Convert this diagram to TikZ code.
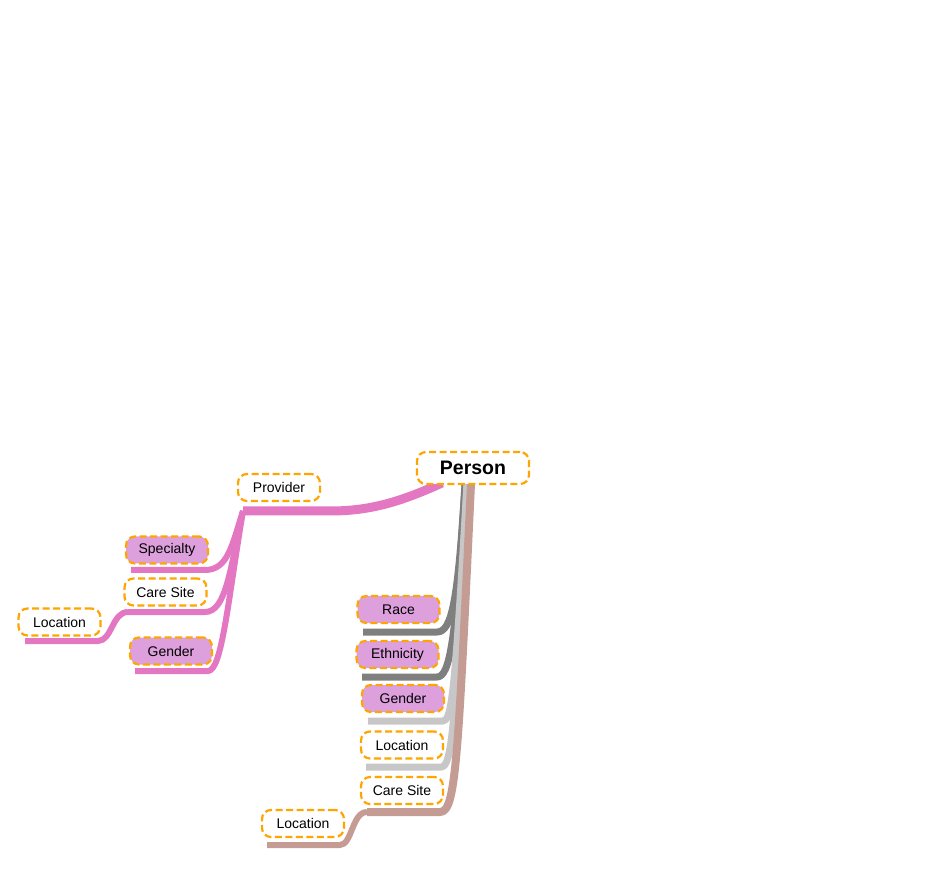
\documentclass[tikz,border=0pt]{standalone}
\usepackage{fontspec}
\setmainfont{Liberation Sans}
\usepackage{tikz}
\definecolor{boxorange}{HTML}{FFA500}
\definecolor{plumfill}{HTML}{DDA0DD}
\definecolor{pinkline}{HTML}{E377C2}
\definecolor{darkline}{HTML}{7F7F7F}
\definecolor{lightline}{HTML}{C7C7C7}
\definecolor{brownline}{HTML}{C49C94}
\pgfdeclarelayer{background}
\pgfsetlayers{background,main}

\begin{document}
\begin{tikzpicture}[x=1pt,y=-1pt]
\useasboundingbox (0,0) rectangle (946,874);
\tikzstyle{topic}=[draw=boxorange,line width=2.2pt,dash pattern=on 7pt off 3.5pt,rounded corners=9pt,fill=white,minimum width=82pt,minimum height=27pt,inner sep=0pt,font=\fontsize{14}{16}\selectfont];
\tikzstyle{attr}=[topic,fill=plumfill];
\tikzstyle{branch}=[line join=round];
\node[topic,minimum width=112pt,minimum height=32pt,font=\bfseries\fontsize{19.5}{22}\selectfont] (P)at(473,468) {Person};
\node[topic] (Pv)at(279,487.5) {Provider};
\node[attr] (Sp)at(167,550) {Specialty};
\node[topic] (CS)at(165.5,592) {Care Site};
\node[topic] (L)at(59.5,622) {Location};
\node[attr] (G)at(171,651) {Gender};
\node[attr] (R)at(398.5,609.5) {Race};
\node[attr] (E)at(397.5,654.5) {Ethnicity};
\node[attr] (GP)at(403,698.5) {Gender};
\node[topic] (LP)at(402,745) {Location};
\node[topic] (CP)at(402,790.5) {Care Site};
\node[topic] (LC)at(303,823.5) {Location};
% underline ends
\coordinate (hPv)at(442,483);
\coordinate (hG)at(465,484);
\coordinate (hL)at(467,484);
\coordinate (hB)at(471,484);
\coordinate (Pva)at(243,511); \coordinate (Pvb)at(330,511);
\coordinate (Spa)at(131,570); \coordinate (Spb)at(205,570);
\coordinate (CSa)at(128,612); \coordinate (CSb)at(205,612);
\coordinate (La)at(25,641);   \coordinate (Lb)at(98,641);
\coordinate (Ga)at(135,671);  \coordinate (Gb)at(208,671);
\coordinate (Ra)at(363,632);  \coordinate (Rb)at(437,632);
\coordinate (Ea)at(362,677);  \coordinate (Eb)at(437,677);
\coordinate (GPa)at(368,721); \coordinate (GPb)at(443,721);
\coordinate (LPa)at(366,767); \coordinate (LPb)at(441,767);
\coordinate (CPa)at(367,812); \coordinate (CPb)at(440,812);
\coordinate (LCa)at(267,845); \coordinate (LCb)at(340,845);
\begin{pgfonlayer}{background}
\draw[branch,pinkline,line width=9pt](hPv) .. controls (400,502) and (370,511) .. (Pvb)--(Pva);
\draw[branch,pinkline,line width=6pt](Pva) .. controls (232,545) and (228,570) .. (Spb)--(Spa);
\draw[branch,pinkline,line width=6pt](Pva) .. controls (230,570) and (226,612) .. (CSb)--(CSa);
\draw[branch,pinkline,line width=6pt](Pva) .. controls (228,600) and (222,671) .. (Gb)--(Ga);
\draw[branch,pinkline,line width=6pt](CSa) .. controls (112,612) and (112,641) .. (Lb)--(La);
\draw[branch,darkline,line width=7pt](hG) .. controls (458,600) and (452,632) .. (Rb)--(Ra);
\draw[branch,darkline,line width=7pt](hG) .. controls (456,640) and (450,677) .. (Eb)--(Ea);
\draw[branch,lightline,line width=7pt](hL) .. controls (455,690) and (452,721) .. (GPb)--(GPa);
\draw[branch,lightline,line width=7pt](hL) .. controls (455,730) and (452,767) .. (LPb)--(LPa);
\draw[branch,brownline,line width=8pt](hB) .. controls (458,760) and (456,812) .. (CPb)--(CPa);
\draw[branch,brownline,line width=6pt](CPa) .. controls (352,812) and (352,845) .. (LCb)--(LCa);
\end{pgfonlayer}
\end{tikzpicture}
\end{document}
